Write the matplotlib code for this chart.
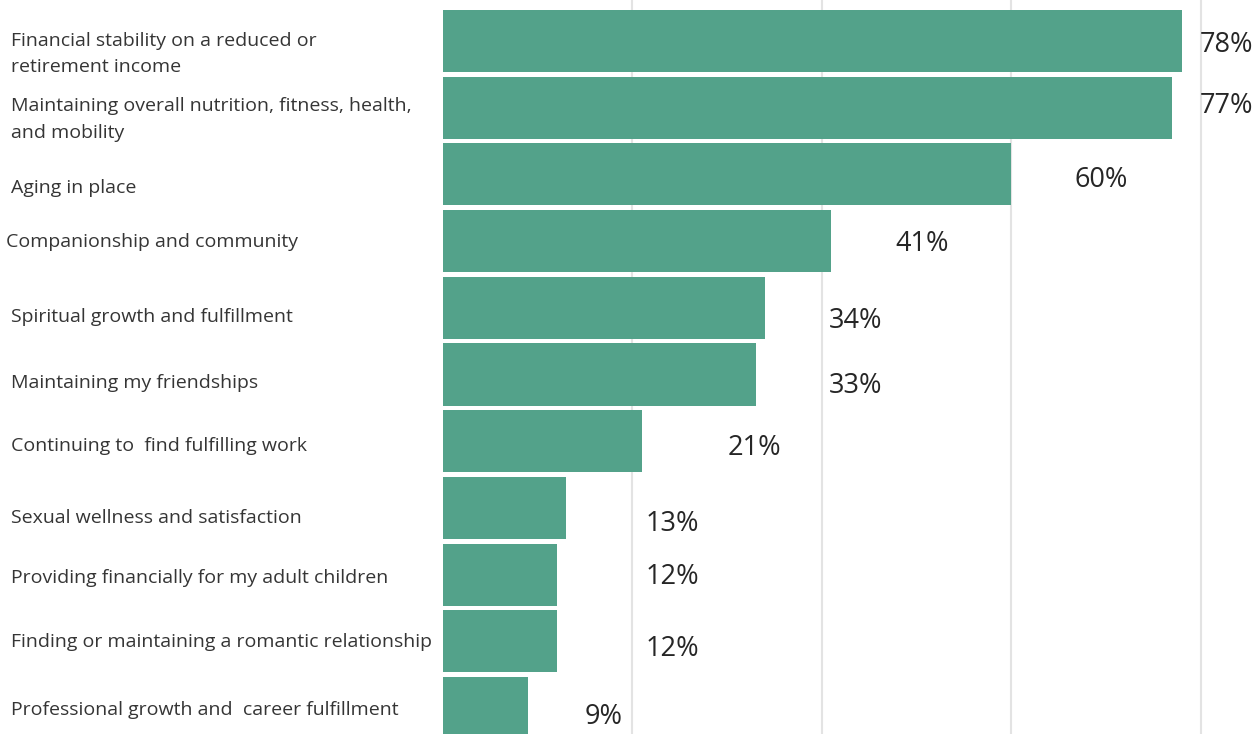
import matplotlib
matplotlib.use("Agg")
import matplotlib.pyplot as plt

categories = [
    "Financial stability on a reduced or\nretirement income",
    "Maintaining overall nutrition, fitness, health,\nand mobility",
    "Aging in place",
    "Companionship and community",
    "Spiritual growth and fulfillment",
    "Maintaining my friendships",
    "Continuing to  find fulfilling work",
    "Sexual wellness and satisfaction",
    "Providing financially for my adult children",
    "Finding or maintaining a romantic relationship",
    "Professional growth and  career fulfillment",
]
values = [78, 77, 60, 41, 34, 33, 21, 13, 12, 12, 9]
gridlines = [20, 40, 60, 80]

# layout tweaks: where each value label sits
label_dx = [1.9, 2.9, 6.7, 6.8, 6.7, 7.7, 9.1, 8.4, 9.4, 9.4, 6.0]
label_dy = [4, -2, 6, 3, 13, 11, 7, 16, 2, 8, 9]      # pixels
cat_dy = [13, 12, 14, 1, 9, 9, 5, 10, 3, 1, 2]         # pixels
cat_x = [11, 11, 11, 6, 11, 11, 11, 11, 11, 11, 11]    # pixels

W, H = 1258, 734
BAR = "#53a28a"
PITCH = 66.7

plt.rcParams["font.family"] = ["Open Sans", "DejaVu Sans"]
fig = plt.figure(figsize=(W / 100, H / 100), dpi=100)
ax = fig.add_axes([443 / W, 0, 1 - 443 / W, 1])

ypos = list(range(len(values)))
ax.barh(ypos, values, height=0.93, color=BAR, zorder=2)
for g in gridlines:
    ax.axvline(g, color="#e3e3e3", lw=1.5, zorder=1)

ax.set_xlim(0, (W - 443) / 9.47)
ax.set_ylim((H - 41) / PITCH, -41 / PITCH)
ax.axis("off")

for i, v in enumerate(values):
    ax.text(v + label_dx[i], i + label_dy[i] / PITCH, f"{v}%",
            fontsize=19.5, color="#262626", va="center", ha="left")

for i, c in enumerate(categories):
    y_fig = 1 - (41 + PITCH * i + cat_dy[i]) / H
    fig.text(cat_x[i] / W, y_fig, c, fontsize=14, color="#353535",
             va="center", ha="left", linespacing=1.62)

fig.savefig("out.png", dpi=100, facecolor="white")
